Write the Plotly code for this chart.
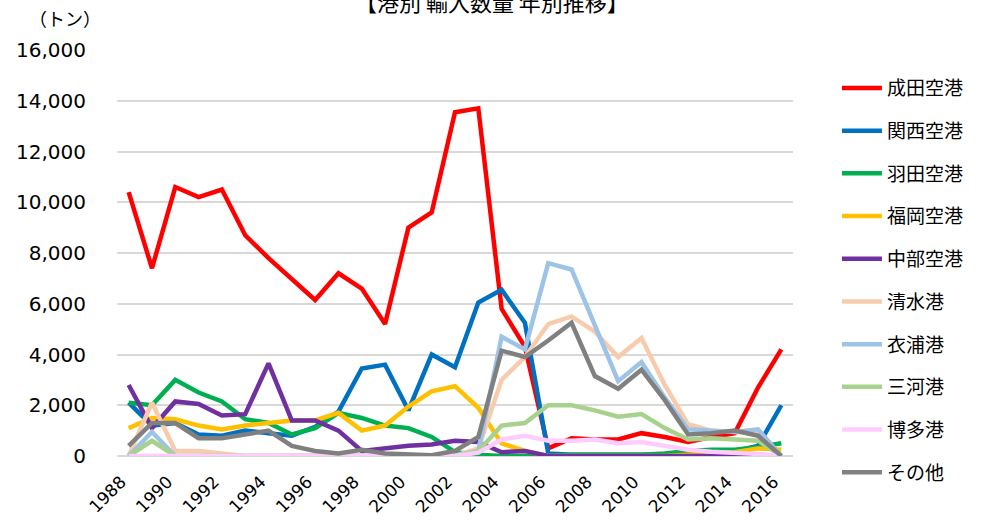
import plotly.graph_objects as go

years = list(range(1988, 2017))

narita   = [10400, 7400, 10600, 10200, 10500, 8700, 7800, 7000, 6150, 7200, 6600, 5200, 9000, 9600, 13550, 13700, 5800, 4300, 300, 700, 650, 650, 900, 750, 550, 750, 900, 2700, 4200]
kansai   = [2100, 1200, 1300, 850, 800, 1000, 900, 800, 1150, 1750, 3450, 3600, 1800, 4000, 3500, 6050, 6550, 5250, 100, 50, 50, 50, 50, 50, 50, 50, 200, 400, 2000]
haneda   = [2100, 2000, 3000, 2500, 2150, 1450, 1300, 850, 1100, 1700, 1500, 1200, 1100, 750, 150, 50, 0, 0, 0, 50, 50, 50, 50, 100, 200, 250, 250, 350, 500]
fukuoka  = [1100, 1500, 1450, 1200, 1050, 1200, 1300, 1400, 1400, 1700, 1000, 1200, 1950, 2550, 2750, 1900, 500, 200, 0, 0, 0, 0, 0, 0, 50, 100, 150, 300, 250]
chubu    = [2800, 1100, 2150, 2050, 1600, 1650, 3650, 1400, 1400, 1000, 200, 300, 400, 450, 600, 550, 150, 200, 0, 0, 0, 0, 0, 0, 0, 0, 0, 0, 0]
shimizu  = [0, 2100, 200, 200, 100, 0, 0, 0, 0, 0, 0, 0, 0, 0, 0, 300, 3000, 3900, 5200, 5500, 4900, 3900, 4650, 2800, 1250, 1000, 950, 900, 0]
kinuura  = [0, 950, 0, 0, 0, 0, 0, 0, 0, 0, 0, 0, 0, 0, 0, 200, 4700, 4200, 7600, 7350, 5200, 2950, 3700, 2300, 1050, 1000, 950, 1050, 0]
mikawa   = [0, 600, 0, 0, 0, 0, 0, 0, 0, 0, 0, 0, 0, 0, 0, 200, 1200, 1300, 2000, 2000, 1800, 1550, 1650, 1100, 650, 700, 650, 600, 0]
hakata   = [0, 0, 0, 0, 0, 0, 0, 0, 0, 0, 0, 0, 0, 0, 0, 130, 650, 800, 600, 600, 650, 500, 550, 400, 250, 170, 130, 80, 0]
sonota   = [400, 1300, 1300, 700, 700, 850, 1000, 400, 200, 100, 250, 100, 50, 30, 200, 750, 4150, 3900, 4550, 5250, 3150, 2650, 3400, 2200, 850, 900, 1000, 800, 0]

names  = ["成田空港", "関西空港", "羽田空港", "福岡空港", "中部空港", "清水港", "衣浦港", "三河港", "博多港", "その他"]
series = [narita, kansai, haneda, fukuoka, chubu, shimizu, kinuura, mikawa, hakata, sonota]
colors = ["#FF0000", "#0070C0", "#00B050", "#FFC000", "#7030A0", "#F8CBAD", "#9DC3E6", "#A9D18E", "#FFCCFF", "#808080"]

tick_years = list(range(1988, 2017, 2))
tick_text = [str(y) + "\u00a0\u00a0" for y in tick_years]

fig = go.Figure()
for n, s, c in zip(names, series, colors):
    fig.add_trace(go.Scatter(x=years, y=s, name=n, mode="lines", legendgroup=n,
                             line=dict(color=c, width=4.5)))

fig.update_layout(
    width=981, height=520,
    margin=dict(l=117, r=184, t=50, b=64),
    paper_bgcolor="white", plot_bgcolor="white",
    font=dict(family="DejaVu Sans, Noto Sans CJK JP", color="#000000"),
    showlegend=True,
    legend=dict(x=1.065, xanchor="left", y=0.953, yanchor="top",
                font=dict(family="Noto Sans CJK JP", size=19, color="#000000"),
                tracegroupgap=15, itemwidth=40, bgcolor="rgba(0,0,0,0)", maxheight=520),
    xaxis=dict(range=[1987.5, 2016.5], tickmode="array", tickvals=tick_years, automargin=False,
               ticktext=tick_text, tickangle=-45, showgrid=False, showline=False, zeroline=False,
               ticks="", ticklabelstandoff=4, tickfont=dict(family="DejaVu Sans", size=17)),
    yaxis=dict(range=[0, 16000], dtick=2000, tickformat=",d", gridcolor="#D9D9D9", gridwidth=1.5,
               zeroline=True, zerolinecolor="#D9D9D9", zerolinewidth=1.5, showline=False, ticks="",
               automargin=False, ticklabelstandoff=30, tickfont=dict(family="DejaVu Sans", size=20)),
    annotations=[
        dict(text="（トン）", xref="paper", yref="paper", x=-0.02, y=1.08, xanchor="right", yanchor="middle",
             showarrow=False, font=dict(family="Noto Sans CJK JP", size=18)),
        dict(text="【港別 輸入数量 年別推移】", xref="paper", yref="paper", x=0.555, y=1.12,
             xanchor="center", yanchor="middle", showarrow=False,
             font=dict(family="Noto Sans CJK JP", size=22)),
    ],
)

fig.write_html("out.html", config={"displayModeBar": False},
               post_script="document.body.style.margin='0';document.body.style.padding='0';")
